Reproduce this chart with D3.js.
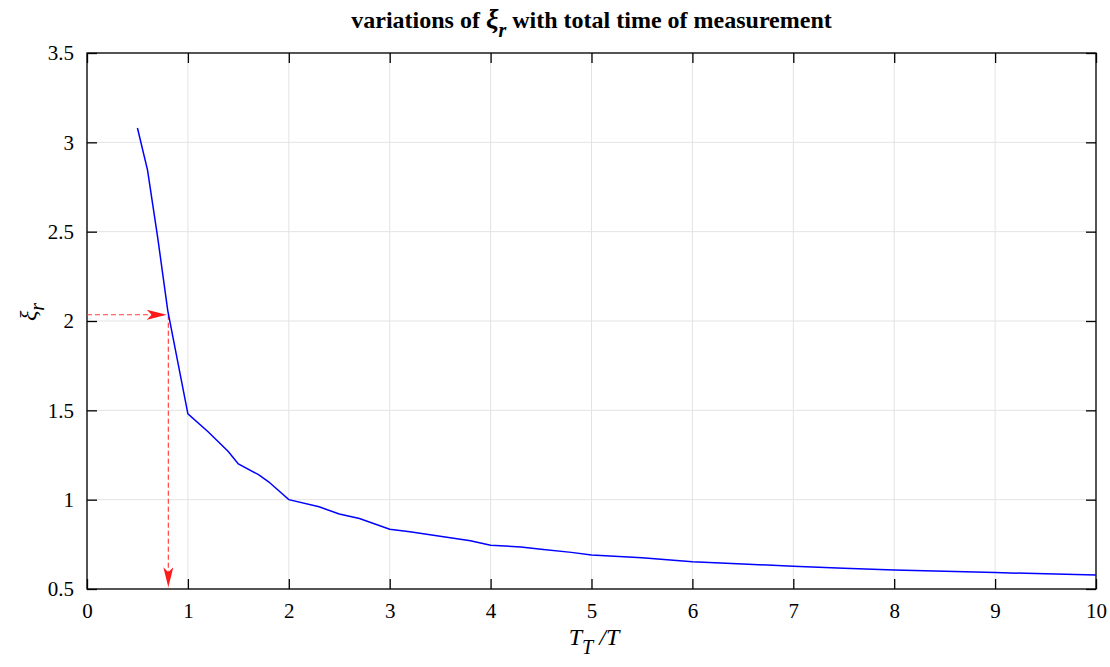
<!DOCTYPE html>
<html><head><meta charset="utf-8">
<script src="https://cdn.jsdelivr.net/npm/d3@7"></script>
<style>body{margin:0;background:#fff}svg{display:block}text{font-family:"Liberation Serif","Times New Roman",serif}</style>
</head><body><svg id="c" width="1110" height="667"></svg>
<script>
const xVals=[0.5,0.6,0.7,0.8,0.9,1.0,1.2,1.4,1.5,1.7,1.8,2.0,2.3,2.5,2.7,3.0,3.2,3.5,3.8,4.0,4.3,4.5,4.8,5.0,5.5,6.0,6.5,7.0,7.5,8.0,8.5,9.0,9.5,10];
const yVals=[3.08,2.845,2.47,2.06,1.77,1.48,1.38,1.27,1.20,1.14,1.10,1.00,0.96,0.92,0.895,0.835,0.82,0.795,0.77,0.745,0.735,0.722,0.705,0.69,0.675,0.653,0.64,0.627,0.616,0.607,0.599,0.592,0.585,0.579];
const xTicks=[0,1,2,3,4,5,6,7,8,9,10];
const yTicks=[0.5,1,1.5,2,2.5,3,3.5];
const markX=0.806, markY=2.035;

const svg=d3.select("#c");
const L=87,R=1096,T=53,B=589;
const x=d3.scaleLinear().domain([0,10]).range([L,R]);
const y=d3.scaleLinear().domain([0.5,3.5]).range([B,T]);

// grid
const g=svg.append("g");
g.selectAll(".gx").data(xTicks).join("line").attr("x1",d=>x(d)).attr("x2",d=>x(d)).attr("y1",T).attr("y2",B).attr("stroke","#e3e3e3").attr("stroke-width",1);
g.selectAll(".gy").data(yTicks).join("line").attr("x1",L).attr("x2",R).attr("y1",d=>y(d)).attr("y2",d=>y(d)).attr("stroke","#e3e3e3").attr("stroke-width",1);

// axes
const tl=10;
const ax=svg.append("g").attr("transform",`translate(0,${B})`).call(d3.axisBottom(x).tickValues(xTicks).tickSize(-tl).tickPadding(14).tickFormat(d3.format("d")));
const axT=svg.append("g").attr("transform",`translate(0,${T})`).call(d3.axisTop(x).tickValues(xTicks).tickSize(-tl).tickFormat(""));
const ay=svg.append("g").attr("transform",`translate(${L},0)`).call(d3.axisLeft(y).tickValues(yTicks).tickSize(-tl).tickPadding(13).tickFormat(d=>d%1===0?d3.format("d")(d):d3.format(".1f")(d)));
const ayR=svg.append("g").attr("transform",`translate(${R},0)`).call(d3.axisRight(y).tickValues(yTicks).tickSize(-tl).tickFormat(""));
[ax,axT,ay,ayR].forEach(a=>{a.select(".domain").remove();a.selectAll("line").attr("stroke","#000").attr("stroke-width",1.3);a.selectAll("text").attr("font-size",21).attr("fill","#000").attr("font-family","Liberation Serif, serif");});
svg.append("rect").attr("x",L).attr("y",T).attr("width",R-L).attr("height",B-T).attr("fill","none").attr("stroke","#000").attr("stroke-width",1.3);

// red arrows
const red="#ff4040";
const defs=svg.append("defs");
defs.append("marker").attr("id","ah").attr("viewBox","0 0 20 10").attr("refX",20).attr("refY",5).attr("markerWidth",20).attr("markerHeight",10).attr("markerUnits","userSpaceOnUse").attr("orient","auto")
 .append("path").attr("d","M0,0 L20,5 L0,10 L5,5 Z").attr("fill","#ff1a1a");
svg.append("line").attr("x1",x(0)).attr("y1",y(markY)).attr("x2",x(0.79)).attr("y2",y(markY)).attr("stroke",red).attr("stroke-width",1.2).attr("stroke-dasharray","5,3").attr("marker-end","url(#ah)");
svg.append("line").attr("x1",x(markX)).attr("y1",y(markY)).attr("x2",x(markX)).attr("y2",y(0.51)).attr("stroke",red).attr("stroke-width",1.2).attr("stroke-dasharray","5,3").attr("marker-end","url(#ah)");

// curve
const pts=xVals.map((v,i)=>[v,yVals[i]]);
svg.append("path").datum(pts).attr("d",d3.line().x(d=>x(d[0])).y(d=>y(d[1]))).attr("fill","none").attr("stroke","#0000ff").attr("stroke-width",1.5);

// title
const t=svg.append("text").attr("x",(L+R)/2).attr("y",28).attr("text-anchor","middle").attr("font-size",24).attr("font-weight","bold");
t.append("tspan").text("variations of ");
t.append("tspan").attr("font-style","italic").attr("font-size",28).text("ξ");
t.append("tspan").attr("font-style","italic").attr("dy",9).attr("font-size",20).text("r");
t.append("tspan").attr("dy",-9).text(" with total time of measurement");

// x label
const xl=svg.append("text").attr("x",594).attr("y",645).attr("text-anchor","middle").attr("font-size",24).attr("font-style","italic");
xl.append("tspan").text("T");
xl.append("tspan").attr("dy",9).attr("font-size",20).text("T");
xl.append("tspan").attr("dy",-9).text(" /T");

// y label
const yl=svg.append("text").attr("transform","translate(36,312) rotate(-90)").attr("text-anchor","middle").attr("font-size",24).attr("font-style","italic");
yl.append("tspan").text("ξ");
yl.append("tspan").attr("dy",8).attr("font-size",20).text("r");
</script></body></html>
